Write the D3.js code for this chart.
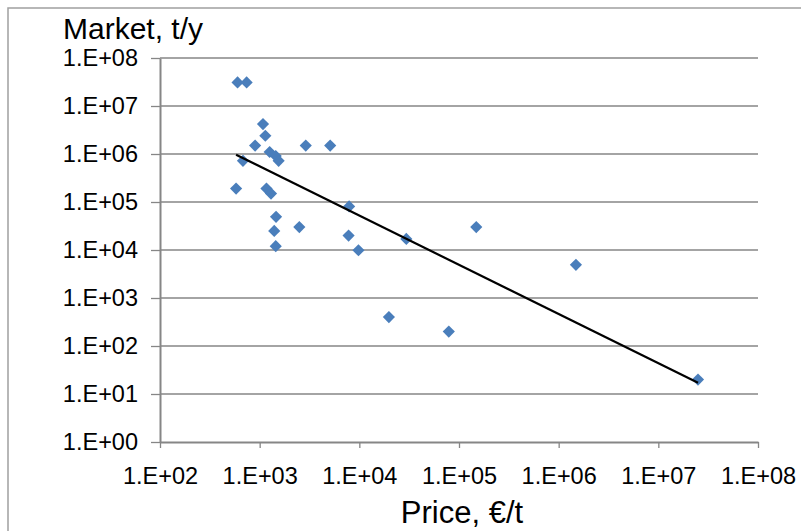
<!DOCTYPE html>
<html>
<head>
<meta charset="utf-8">
<script src="https://cdn.jsdelivr.net/npm/d3@7"></script>
<style>
    body { margin: 0; background: #fff; }
    text { font-family: "Liberation Sans", Arial, sans-serif; fill: #000; }
</style>
</head>
<body>
<div id="chartContainer"></div>
<script>
// price in €/t and market in t/y
var priceValues = [600, 740, 1080, 1140, 900, 2900, 5100, 1260, 1450, 1550, 680, 580, 1170, 1300, 7900, 1460, 2500, 1400, 7800, 1450, 9800, 29600, 149000, 1490000, 19800, 79000, 25000000];
var marketValues = [3.1e7, 3.1e7, 4.2e6, 2.4e6, 1.5e6, 1.5e6, 1.5e6, 1.1e6, 9.1e5, 7.2e5, 7.2e5, 1.9e5, 1.9e5, 1.5e5, 8.1e4, 4.9e4, 3e4, 2.5e4, 2e4, 1.2e4, 9.9e3, 1.7e4, 3e4, 4.9e3, 400, 200, 20];

var xTicks = [1e2, 1e3, 1e4, 1e5, 1e6, 1e7, 1e8];
var xTickLabels = ["1.E+02", "1.E+03", "1.E+04", "1.E+05", "1.E+06", "1.E+07", "1.E+08"];
var yTicks = [1e0, 1e1, 1e2, 1e3, 1e4, 1e5, 1e6, 1e7, 1e8];
var yTickLabels = ["1.E+00", "1.E+01", "1.E+02", "1.E+03", "1.E+04", "1.E+05", "1.E+06", "1.E+07", "1.E+08"];

var width = 801, height = 531;
var margin = { top: 58, right: 43, bottom: 89, left: 160 };
var axisColor = "#868686";

var svg = d3.select("#chartContainer")
    .append("svg")
    .attr("width", width)
    .attr("height", height);

// chart frame (cut off at right and bottom like the picture)
svg.append("rect")
    .attr("x", 8)
    .attr("y", 8)
    .attr("width", width + 20)
    .attr("height", height + 20)
    .attr("fill", "none")
    .attr("stroke", "#a0a0a0")
    .attr("stroke-width", 1.5);

var data = [];
for (var i = 0; i < priceValues.length; i++) {
    data.push({ price: priceValues[i], market: marketValues[i] });
}

var x = d3.scaleLog()
    .domain([1e2, 1e8])
    .range([margin.left, width - margin.right]);

var y = d3.scaleLog()
    .domain([1e0, 1e8])
    .range([height - margin.bottom, margin.top]);

// horizontal gridlines
svg.append("g")
    .selectAll("line")
    .data(yTicks.slice(1))
    .join("line")
    .attr("x1", x(1e2))
    .attr("x2", x(1e8))
    .attr("y1", function (d) { return y(d) })
    .attr("y2", function (d) { return y(d) })
    .attr("stroke", axisColor)
    .attr("stroke-width", 1.3);

// Y axis
var yAxis = svg.append("g")
    .attr("transform", `translate(${x(1e2)}, 0)`)
    .call(d3.axisLeft(y)
        .tickValues(yTicks)
        .tickFormat(function (d, i) { return yTickLabels[i] })
        .tickSize(9)
        .tickSizeOuter(0)
        .tickPadding(13));
yAxis.select(".domain").attr("stroke", axisColor).attr("stroke-width", 2);
yAxis.selectAll(".tick line").attr("stroke", axisColor).attr("stroke-width", 1.3);
yAxis.selectAll(".tick text")
    .attr("font-size", "23.5px")
    .attr("font-family", "'Liberation Sans', Arial, sans-serif")
    .attr("fill", "#000");

// X axis
var xAxis = svg.append("g")
    .attr("transform", `translate(0, ${y(1e0)})`)
    .call(d3.axisBottom(x)
        .tickValues(xTicks)
        .tickFormat(function (d, i) { return xTickLabels[i] })
        .tickSize(6)
        .tickSizeOuter(0)
        .tickPadding(36));
xAxis.select(".domain").attr("stroke", axisColor).attr("stroke-width", 2);
xAxis.selectAll(".tick line").attr("stroke", axisColor).attr("stroke-width", 1.3);
xAxis.selectAll(".tick text")
    .attr("font-size", "23.5px")
    .attr("font-family", "'Liberation Sans', Arial, sans-serif")
    .attr("fill", "#000")
    .attr("dy", "0");

// power trendline (least squares on log10 values)
var lx = data.map(function (d) { return Math.log10(d.price) });
var ly = data.map(function (d) { return Math.log10(d.market) });
var mx = d3.mean(lx), my = d3.mean(ly);
var sxy = 0, sxx = 0;
for (var j = 0; j < lx.length; j++) {
    sxy += (lx[j] - mx) * (ly[j] - my);
    sxx += (lx[j] - mx) * (lx[j] - mx);
}
var slope = sxy / sxx;
var intercept = my - slope * mx;
var xExtent = d3.extent(priceValues);
var trend = xExtent.map(function (p) {
    return { price: p, market: Math.pow(10, intercept + slope * Math.log10(p)) };
});

// markers
svg.append("g")
    .selectAll("path")
    .data(data)
    .join("path")
    .attr("d", d3.symbol().type(d3.symbolSquare).size(74))
    .attr("transform", function (d) { return `translate(${x(d.price)}, ${y(d.market)}) rotate(45)` })
    .attr("fill", "#4A7EBB");

svg.append("path")
    .datum(trend)
    .attr("fill", "none")
    .attr("stroke", "#000")
    .attr("stroke-width", 2.2)
    .attr("d", d3.line()
        .x(function (d) { return x(d.price) })
        .y(function (d) { return y(d.market) }));

// axis titles
svg.append("text")
    .attr("x", 63)
    .attr("y", 39)
    .attr("font-size", "30px")
    .text("Market, t/y");

svg.append("text")
    .attr("x", 462)
    .attr("y", 523)
    .attr("text-anchor", "middle")
    .attr("font-size", "31px")
    .text("Price, €/t");
</script>
</body>
</html>
